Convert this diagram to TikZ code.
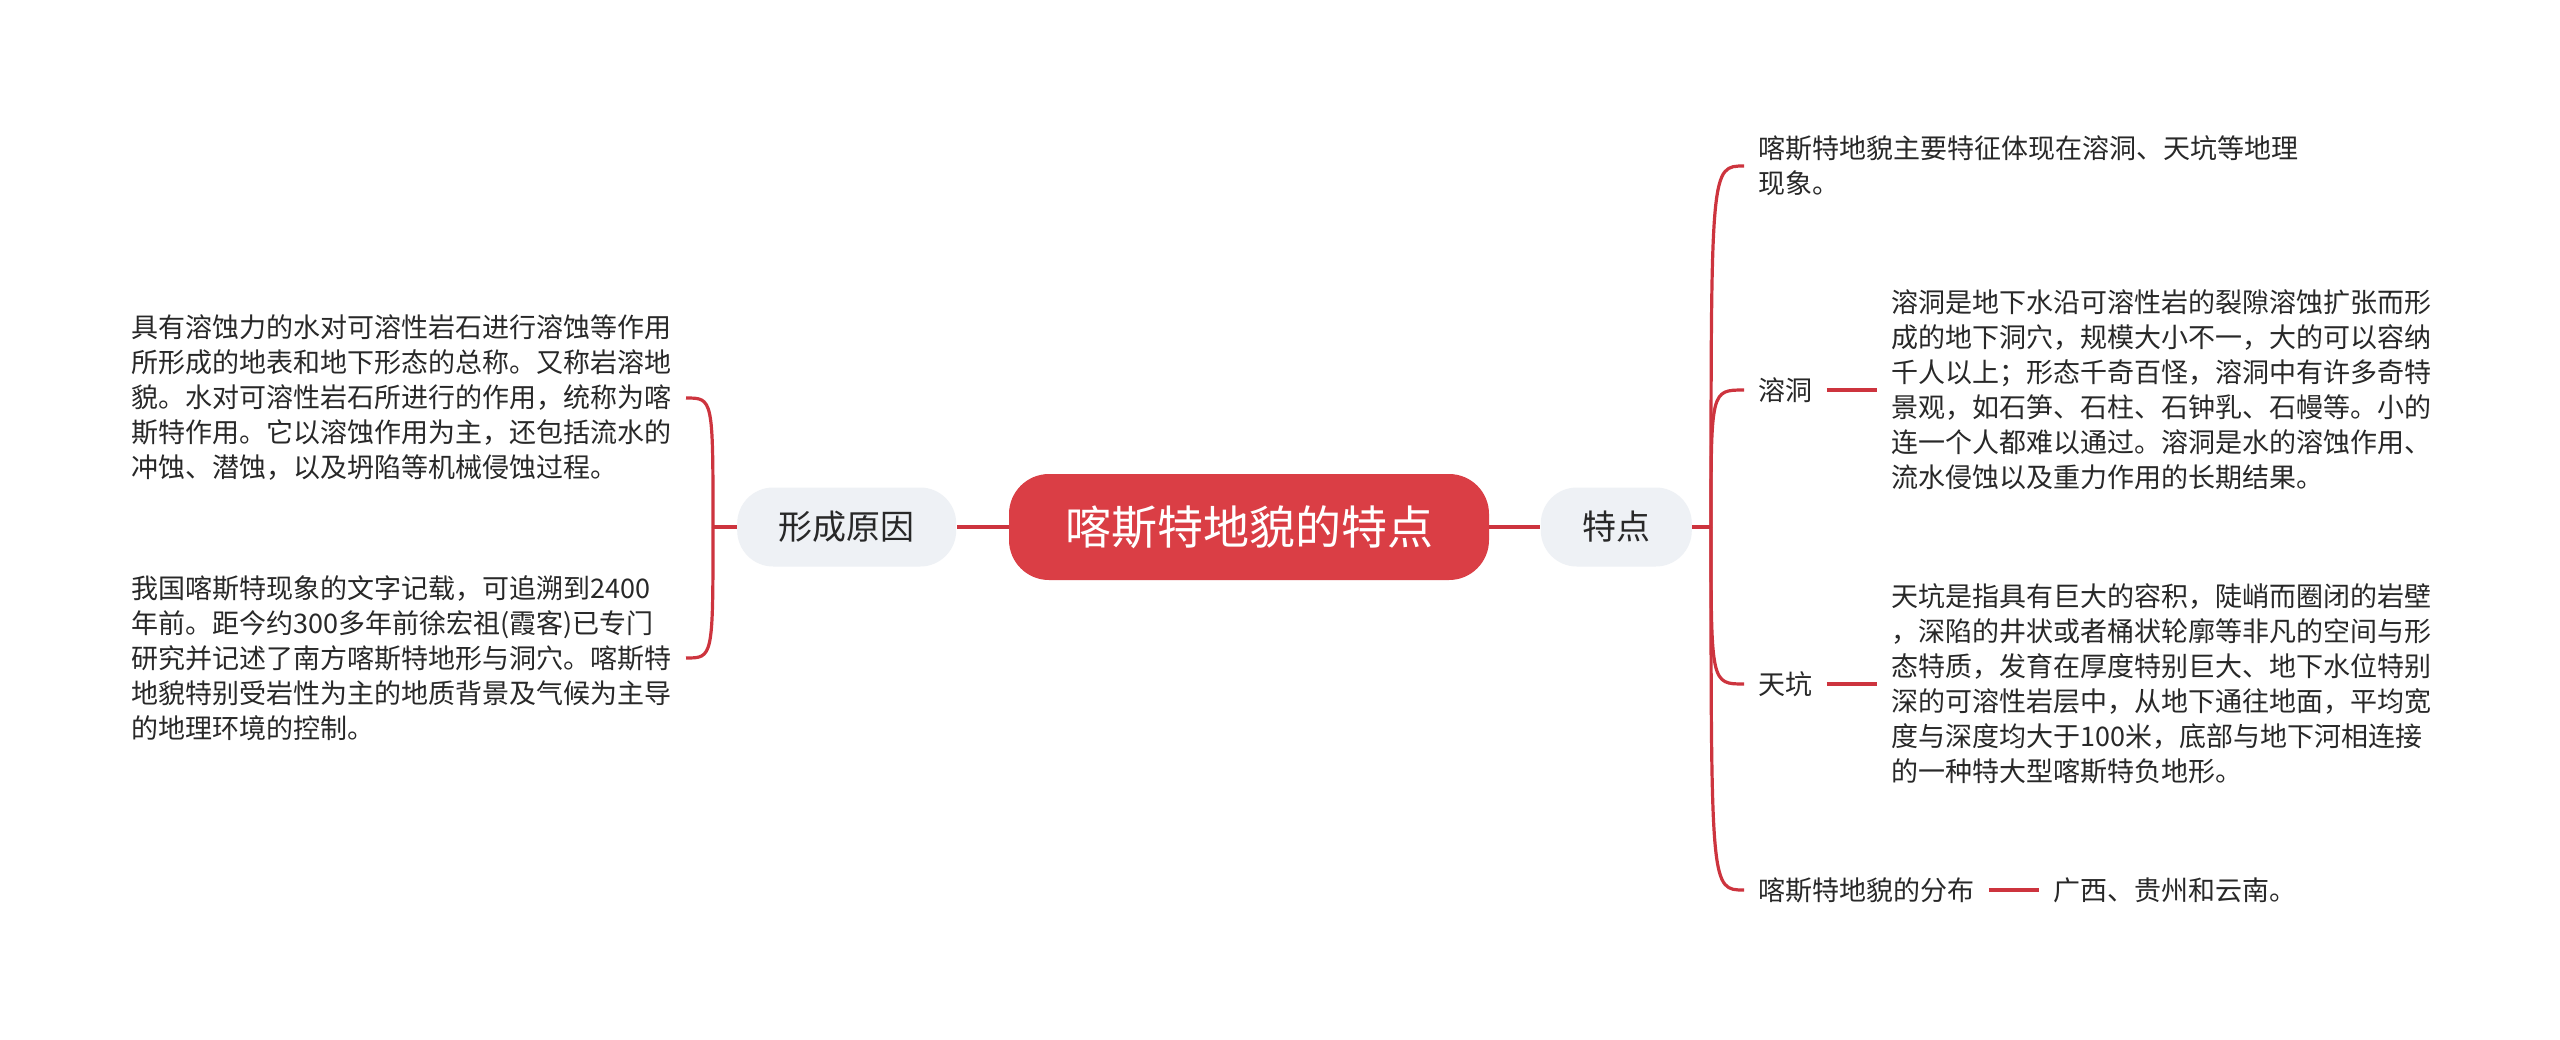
\documentclass[tikz,border=0pt]{standalone}
\usepackage{fontspec}
\setmainfont{Noto Sans CJK SC}
\usetikzlibrary{positioning}
\definecolor{mapRed}{RGB}{218,62,69}
\definecolor{mapLine}{RGB}{205,52,62}
\definecolor{mapGrey}{RGB}{238,241,245}
\definecolor{mapText}{RGB}{40,40,40}

\begin{document}
\begin{tikzpicture}[x=0.5pt,y=-0.5pt,
  branch/.style={draw=mapLine,line width=1.6pt},
  topic/.style={fill=mapGrey,rounded corners=18pt,minimum height=39.5pt,text=mapText,font=\fontsize{17pt}{20pt}\selectfont},
  leaf/.style={align=left,inner ysep=0pt,inner xsep=7pt,text=mapText,font=\fontsize{13.5pt}{17.5pt}\selectfont}]
\fill[white] (0,0) rectangle (2560,1039);
\useasboundingbox (0,0) rectangle (2560,1039);
\node[fill=mapRed,rounded corners=20pt,minimum width=240pt,minimum height=53pt,text=white,font=\fontsize{23pt}{26pt}\selectfont] (root) at (1249,527) {喀斯特地貌的特点};
\node[topic,minimum width=109.5pt,left=26pt of root] (cause) {形成原因};
\node[topic,minimum width=75.5pt,right=25.5pt of root] (feat) {特点};
\coordinate (lb) at (713,527);
\coordinate (rb) at (1711,527);
\node[leaf,anchor=east] (c1) at (686,398) {具有溶蚀力的水对可溶性岩石进行溶蚀等作用\\所形成的地表和地下形态的总称。又称岩溶地\\貌。水对可溶性岩石所进行的作用，统称为喀\\斯特作用。它以溶蚀作用为主，还包括流水的\\冲蚀、潜蚀，以及坍陷等机械侵蚀过程。};
\node[leaf,anchor=east] (c2) at (686,658) {我国喀斯特现象的文字记载，可追溯到2400\\年前。距今约300多年前徐宏祖(霞客)已专门\\研究并记述了南方喀斯特地形与洞穴。喀斯特\\地貌特别受岩性为主的地质背景及气候为主导\\的地理环境的控制。};
\node[leaf,anchor=west] (f1) at (1744,166) {喀斯特地貌主要特征体现在溶洞、天坑等地理\\现象。};
\node[leaf,anchor=west] (cave) at (1744,390) {溶洞};
\node[leaf,right=25pt of cave] (cavetxt) {溶洞是地下水沿可溶性岩的裂隙溶蚀扩张而形\\成的地下洞穴，规模大小不一，大的可以容纳\\千人以上；形态千奇百怪，溶洞中有许多奇特\\景观，如石笋、石柱、石钟乳、石幔等。小的\\连一个人都难以通过。溶洞是水的溶蚀作用、\\流水侵蚀以及重力作用的长期结果。};
\node[leaf,anchor=west] (pit) at (1744,684) {天坑};
\node[leaf,right=25pt of pit] (pittxt) {天坑是指具有巨大的容积，陡峭而圈闭的岩壁\\，深陷的井状或者桶状轮廓等非凡的空间与形\\态特质，发育在厚度特别巨大、地下水位特别\\深的可溶性岩层中，从地下通往地面，平均宽\\度与深度均大于100米，底部与地下河相连接\\的一种特大型喀斯特负地形。};
\node[leaf,anchor=west] (dist) at (1744,890) {喀斯特地貌的分布};
\node[leaf,right=25pt of dist] (disttxt) {广西、贵州和云南。};
\draw[branch] (root.west) -- (cause.east);
\draw[branch] (root.east) -- (feat.west);
\draw[branch] (cause.west) -- (lb);
\draw[branch] (feat.east) -- (rb);
\draw[branch] (lb) .. controls (lb |- c1.east) .. (c1.east);
\draw[branch] (lb) .. controls (lb |- c2.east) .. (c2.east);
\draw[branch] (rb) .. controls (rb |- f1.west) .. (f1.west);
\draw[branch] (rb) .. controls (rb |- cave.west) .. (cave.west);
\draw[branch] (rb) .. controls (rb |- pit.west) .. (pit.west);
\draw[branch] (rb) .. controls (rb |- dist.west) .. (dist.west);
\draw[branch] (cave.east) -- (cavetxt.west);
\draw[branch] (pit.east) -- (pittxt.west);
\draw[branch] (dist.east) -- (disttxt.west);
\end{tikzpicture}
\end{document}
